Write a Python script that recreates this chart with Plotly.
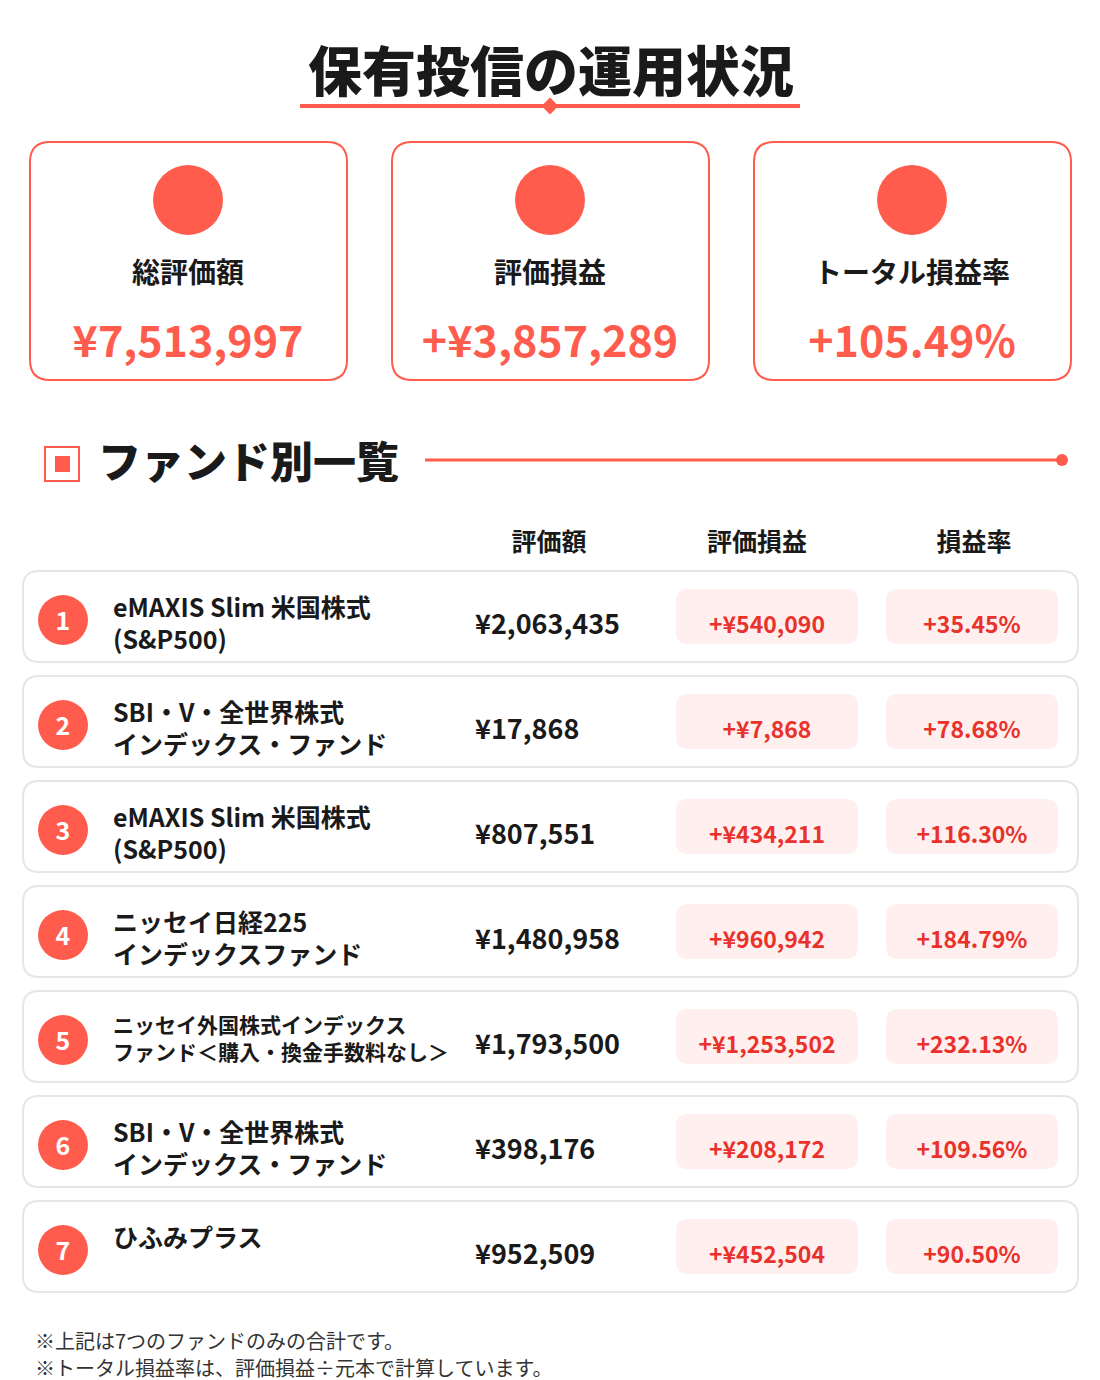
import plotly.graph_objects as go

# データ
title_text = "保有投信の運用状況"
card_labels = ["総評価額", "評価損益", "トータル損益率"]
card_values = ["¥7,513,997", "+¥3,857,289", "+105.49%"]

section_title = "ファンド別一覧"
col_headers = ["評価額", "評価損益", "損益率"]

fund_line1 = ["eMAXIS Slim 米国株式", "SBI・V・全世界株式", "eMAXIS Slim 米国株式",
              "ニッセイ日経225", "ニッセイ外国株式インデックス", "SBI・V・全世界株式", "ひふみプラス"]
fund_line2 = ["(S&P500)", "インデックス・ファンド", "(S&P500)",
              "インデックスファンド", "ファンド＜購入・換金手数料なし＞", "インデックス・ファンド", ""]
fund_values = ["¥2,063,435", "¥17,868", "¥807,551", "¥1,480,958", "¥1,793,500", "¥398,176", "¥952,509"]
fund_gains = ["+¥540,090", "+¥7,868", "+¥434,211", "+¥960,942", "+¥1,253,502", "+¥208,172", "+¥452,504"]
fund_rates = ["+35.45%", "+78.68%", "+116.30%", "+184.79%", "+232.13%", "+109.56%", "+90.50%"]

notes = ["※上記は7つのファンドのみの合計です。",
         "※トータル損益率は、評価損益÷元本で計算しています。"]

W, H = 1100, 1380
OFF = 8   # ページ余白の分ずらす
DY = 4    # 文字の縦位置補正
RED = "#FF5C4D"
PILL_RED = "#E9322B"
PILL_BG = "#FFEFEE"
BLACK = "#1A1A1A"
FONT = "Noto Sans CJK JP"


def rrect(x0, y0, x1, y1, r):
    return (f"M{x0+r},{y0} L{x1-r},{y0} Q{x1},{y0} {x1},{y0+r} "
            f"L{x1},{y1-r} Q{x1},{y1} {x1-r},{y1} L{x0+r},{y1} "
            f"Q{x0},{y1} {x0},{y1-r} L{x0},{y0+r} Q{x0},{y0} {x0+r},{y0} Z")


def txt(x, y, s, size, color=BLACK, weight=700, pos="middle center"):
    return go.Scatter(x=x, y=[v + DY for v in y], text=s, mode="text", textposition=pos,
                      textfont=dict(family=FONT, size=size, color=color, weight=weight),
                      hoverinfo="skip", showlegend=False)


fig = go.Figure()
shapes = []

# タイトル
fig.add_trace(txt([551], [74], [title_text], 54, weight=900))
shapes.append(dict(type="line", x0=300, x1=800, y0=106, y1=106, line=dict(color=RED, width=4)))
fig.add_trace(go.Scatter(x=[550], y=[106], mode="markers",
                         marker=dict(symbol="diamond", size=13, color=RED),
                         hoverinfo="skip", showlegend=False))

# サマリーカード
card_cx = [188, 550, 912]
for cx in card_cx:
    shapes.append(dict(type="path", path=rrect(cx - 158, 142, cx + 159, 380, 20),
                       line=dict(color=RED, width=2), fillcolor="white"))
fig.add_trace(go.Scatter(x=card_cx, y=[200] * 3, mode="markers",
                         marker=dict(size=70, color=RED, line=dict(width=0)),
                         hoverinfo="skip", showlegend=False))
fig.add_trace(txt(card_cx, [272] * 3, card_labels, 28))
fig.add_trace(txt(card_cx, [342] * 3, card_values, 43, color=RED))

# セクション見出し
shapes.append(dict(type="rect", x0=45, x1=79, y0=447, y1=481, line=dict(color=RED, width=2)))
shapes.append(dict(type="rect", x0=55, x1=70, y0=456, y1=472, fillcolor=RED, line=dict(width=0)))
fig.add_trace(txt([98], [463], [section_title], 43, weight=900, pos="middle right"))
shapes.append(dict(type="line", x0=425, x1=1062, y0=460, y1=460, line=dict(color=RED, width=3)))
fig.add_trace(go.Scatter(x=[1062], y=[460], mode="markers",
                         marker=dict(size=12, color=RED), hoverinfo="skip", showlegend=False))

# 列見出し
fig.add_trace(txt([549, 757, 974], [541] * 3, col_headers, 25))

# 各行
n = len(fund_values)
tops = [571 + 105 * i for i in range(n)]
for t in tops:
    shapes.append(dict(type="path", path=rrect(23, t, 1078, t + 91, 16),
                       line=dict(color="#E6E6E6", width=2), fillcolor="white"))
    shapes.append(dict(type="path", path=rrect(676, t + 18, 858, t + 73, 12),
                       line=dict(width=0), fillcolor=PILL_BG))
    shapes.append(dict(type="path", path=rrect(886, t + 18, 1058, t + 73, 12),
                       line=dict(width=0), fillcolor=PILL_BG))

fig.add_trace(go.Scatter(x=[63] * n, y=[t + 49 for t in tops], mode="markers",
                         marker=dict(size=50, color=RED, line=dict(width=0)),
                         hoverinfo="skip", showlegend=False))
fig.add_trace(txt([63] * n, [t + 49 for t in tops], [str(i + 1) for i in range(n)], 25,
                  color="white"))

for i, t in enumerate(tops):
    if fund_line2[i]:
        small = len(fund_line2[i]) > 14
        size = 21 if small else 25
        yc = t + 46.5 if small else t + 51.5
        fig.add_trace(txt([113], [yc], [fund_line1[i] + "<br>" + fund_line2[i]], size,
                          pos="middle right"))
    else:
        fig.add_trace(txt([113], [t + 36], [fund_line1[i]], 25, pos="middle right"))

fig.add_trace(txt([475] * n, [t + 52 for t in tops], fund_values, 27, pos="middle right"))
fig.add_trace(txt([767] * n, [t + 52 for t in tops], fund_gains, 23, color=PILL_RED))
fig.add_trace(txt([972] * n, [t + 52 for t in tops], fund_rates, 23, color=PILL_RED))

# 注記
fig.add_trace(txt([35, 35], [1340, 1367], notes, 20, color="#333333", weight=400,
                  pos="middle right"))

fig.update_layout(
    width=W, height=H,
    margin=dict(l=0, r=0, t=0, b=0),
    paper_bgcolor="white", plot_bgcolor="white",
    xaxis=dict(range=[OFF, W + OFF], visible=False, fixedrange=True),
    yaxis=dict(range=[H + OFF, OFF], visible=False, fixedrange=True),
    shapes=[dict(s, layer="below") for s in shapes],
    showlegend=False,
)

fig.write_html("out.html", config={"displayModeBar": False})
